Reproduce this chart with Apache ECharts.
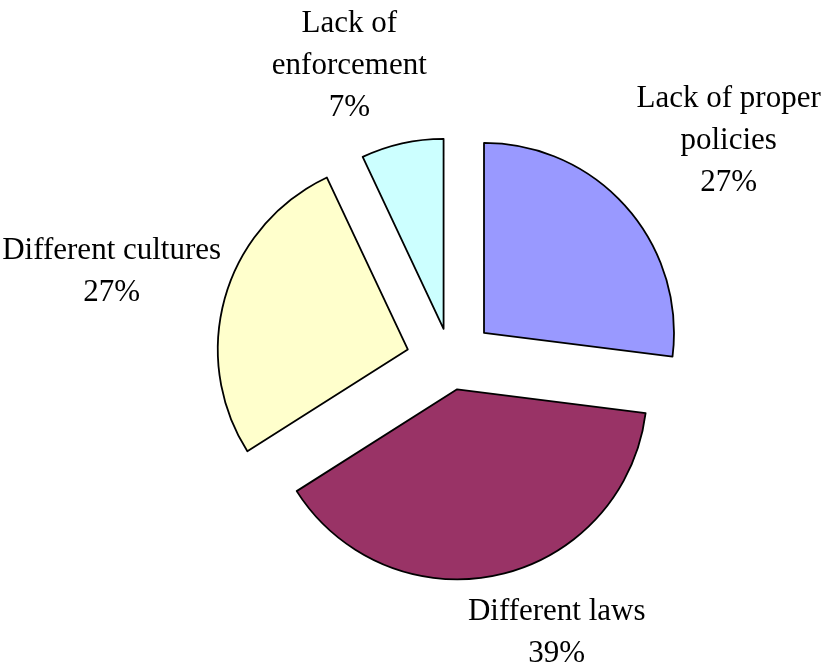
<!DOCTYPE html>
<html>
<head>
<meta charset="utf-8">
<script src="https://cdn.jsdelivr.net/npm/echarts@6/dist/echarts.min.js"></script>
<style>
  html, body { margin: 0; padding: 0; background: #ffffff; }
  #chart { width: 826px; height: 670px; }
</style>
</head>
<body>
<div id="chart"></div>
<script>
// Causes, in clockwise order from 12 o'clock
const categories = ['Lack of proper policies', 'Different laws', 'Different cultures', 'Lack of enforcement'];
// How each category name breaks over lines in its label
const labelLines = [['Lack of proper', 'policies'], ['Different laws'], ['Different cultures'], ['Lack of', 'enforcement']];
const values = [27, 39, 27, 7];

const colors = ['#9999FF', '#993366', '#FFFFCC', '#CCFFFF'];
// How far each slice is pulled out from the centre (px)
const explode = [44, 28, 45, 34];
// Fine shift of each label from its default outside spot
const labelShift = [[-10, -53], [-40, 39], [20, -19], [34, -58]];

const chart = echarts.init(document.getElementById('chart'), null, { renderer: 'canvas' });

// One pie per slice so that each slice can carry its own explosion distance;
// the other slices in that pie are left invisible.
const series = categories.map((_, i) => ({
  type: 'pie',
  center: [451, 362],
  radius: 190,
  startAngle: 90,
  clockwise: true,
  animation: false,
  silent: true,
  avoidLabelOverlap: false,
  selectedMode: 'multiple',
  selectedOffset: explode[i],
  z: 2,
  label: {
    show: true,
    position: 'outside',
    alignTo: 'none',
    formatter: p => labelLines[p.dataIndex].map(s => '{t|' + s + '}').join('\n') +
      '\n{t|' + Math.round(p.percent) + '%}',
    rich: {
      t: {
        fontFamily: 'Liberation Serif',
        fontSize: 31,
        lineHeight: 42,
        color: '#000000',
        align: 'center'
      }
    }
  },
  labelLine: { show: false, length: 20, length2: 0 },
  labelLayout: { dx: labelShift[i][0], dy: labelShift[i][1] },
  emphasis: { disabled: true },
  data: values.map((v, j) => ({
    name: categories[j],
    value: v,
    selected: j === i,
    itemStyle: j === i
      ? { color: colors[j], borderColor: '#000000', borderWidth: 1.8 }
      : { color: 'rgba(0,0,0,0)', borderWidth: 0 },
    label: { show: j === i }
  }))
}));

chart.setOption({
  backgroundColor: '#ffffff',
  animation: false,
  series: series
});
</script>
</body>
</html>
